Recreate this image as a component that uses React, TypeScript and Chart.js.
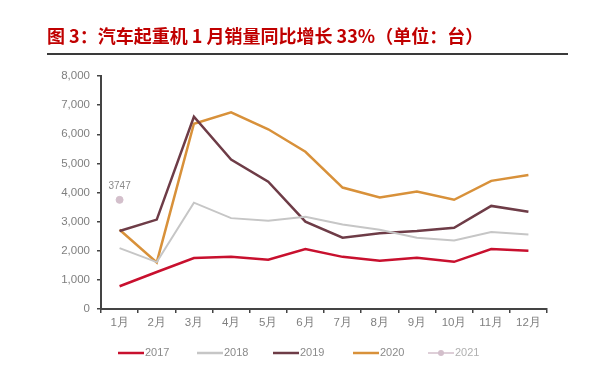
import React, { useEffect, useRef } from "react";
import Chart from "chart.js/auto";

const months = ["1月", "2月", "3月", "4月", "5月", "6月", "7月", "8月", "9月", "10月", "11月", "12月"];
const s2017 = [780, 1270, 1750, 1790, 1690, 2060, 1790, 1660, 1760, 1620, 2060, 2000];
const s2018 = [2090, 1610, 3650, 3120, 3030, 3170, 2900, 2720, 2450, 2350, 2640, 2560];
const s2019 = [2680, 3070, 6600, 5130, 4370, 3000, 2450, 2600, 2680, 2790, 3540, 3340];
const s2020 = [2720, 1600, 6360, 6750, 6170, 5400, 4170, 3830, 4030, 3750, 4400, 4600];
const s2021 = [3747, null, null, null, null, null, null, null, null, null, null, null];
const seriesNames = ["2017", "2018", "2019", "2020", "2021"];
const seriesColors = ["#c8102e", "#c6c6c6", "#6e3c47", "#d8913a", "#d3bfcb"];
const titleText = "图 3：汽车起重机 1 月销量同比增长 33%（单位：台）";
const yMax = 8000;
const yStep = 1000;

const decorPlugin = {
  id: "decor",
  afterDraw(chart: any) {
    const ctx = chart.ctx;
    ctx.save();
    // title
    ctx.fillStyle = "#c00000";
    ctx.font = "bold 18px 'Noto Sans CJK SC', sans-serif";
    ctx.textBaseline = "middle";
    ctx.textAlign = "left";
    ctx.fillText(titleText, 47, 36);
    // underline
    ctx.strokeStyle = "#3a3a3a";
    ctx.lineWidth = 2;
    ctx.beginPath();
    ctx.moveTo(47, 54);
    ctx.lineTo(568, 54);
    ctx.stroke();

    // data label for 2021
    const meta = chart.getDatasetMeta(4);
    const pt = meta.data[0];
    if (pt) {
      ctx.fillStyle = "#8a8a8a";
      ctx.font = "10px 'Liberation Sans', Arial, sans-serif";
      ctx.textAlign = "center";
      ctx.textBaseline = "bottom";
      ctx.fillText(String(s2021[0]), pt.x, pt.y - 9);
    }

    // legend
    const starts = [118, 197, 273, 353, 428];
    const ly = 353;
    ctx.font = "11px 'Liberation Sans', Arial, sans-serif";
    ctx.textBaseline = "middle";
    ctx.textAlign = "left";
    seriesNames.forEach((name, i) => {
      const x0 = starts[i];
      ctx.strokeStyle = seriesColors[i];
      ctx.lineWidth = i === 4 ? 1.5 : 2.5;
      ctx.beginPath();
      ctx.moveTo(x0, ly);
      ctx.lineTo(x0 + 26, ly);
      ctx.stroke();
      if (i === 4) {
        ctx.fillStyle = seriesColors[i];
        ctx.beginPath();
        ctx.arc(x0 + 13, ly, 3, 0, Math.PI * 2);
        ctx.fill();
      }
      ctx.fillStyle = i === 4 ? "#b0b0b0" : "#8a8a8a";
      ctx.fillText(name, x0 + 27, ly);
    });
    ctx.restore();
  },
};

export default function App() {
  const ref = useRef<HTMLCanvasElement | null>(null);
  useEffect(() => {
    if (!ref.current) return;
    const tickFont = { family: "'Liberation Sans', Arial, sans-serif", size: 11.5 };
    const mk = (label: string, data: any[], i: number, w: number) => ({
      label,
      data,
      borderColor: seriesColors[i],
      backgroundColor: seriesColors[i],
      borderWidth: w,
      pointRadius: 0,
      tension: 0,
      fill: false,
    });
    const chart = new Chart(ref.current, {
      type: "line",
      data: {
        labels: months,
        datasets: [
          mk("2017", s2017, 0, 2.5),
          mk("2018", s2018, 1, 2),
          mk("2019", s2019, 2, 2.5),
          mk("2020", s2020, 3, 2.5),
          {
            label: "2021",
            data: s2021,
            borderColor: seriesColors[4],
            backgroundColor: seriesColors[4],
            borderWidth: 1,
            pointRadius: 3.5,
            showLine: false,
          },
        ],
      },
      options: {
        animation: false,
        responsive: false,
        maintainAspectRatio: false,
        layout: { padding: { left: 0, right: 53, top: 76, bottom: 0 } },
        plugins: {
          legend: { display: false },
          title: { display: false },
          tooltip: { enabled: false },
        },
        scales: {
          x: {
            offset: true,
            grid: {
              offset: true,
              drawOnChartArea: false,
              drawTicks: true,
              tickLength: 4,
              color: "#444",
              lineWidth: 1.5,
            },
            border: { display: true, color: "#444", width: 2 },
            ticks: { color: "#7f7f7f", font: tickFont, padding: 3, maxRotation: 0 },
            afterFit: (s: any) => {
              s.height = 77;
            },
          },
          y: {
            min: 0,
            max: yMax,
            ticks: { stepSize: yStep, color: "#7f7f7f", font: tickFont, padding: 7 },
            grid: {
              drawOnChartArea: false,
              drawTicks: true,
              tickLength: 4,
              color: "#444",
              lineWidth: 1.5,
            },
            border: { display: true, color: "#444", width: 2 },
            afterFit: (s: any) => {
              s.width = 101;
            },
          },
        },
      },
      plugins: [decorPlugin],
    });
    return () => chart.destroy();
  }, []);
  return (
    <div style={{ position: "absolute", left: 0, top: 0, width: 600, height: 386, background: "#fff" }}>
      <canvas ref={ref} width={600} height={386} style={{ display: "block", width: 600, height: 386 }} />
    </div>
  );
}
